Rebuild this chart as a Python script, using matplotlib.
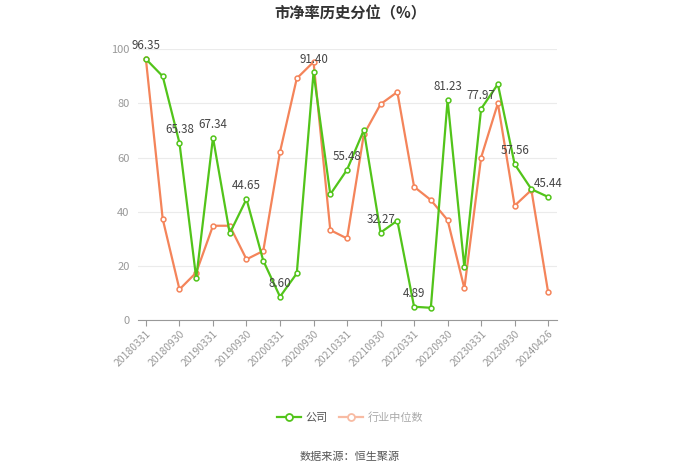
import matplotlib.pyplot as plt
from matplotlib.lines import Line2D

plt.rcParams['font.family'] = ['Noto Sans CJK SC', 'DejaVu Sans']

dates = [
    "20180331", "20180630", "20180930", "20181231",
    "20190331", "20190630", "20190930", "20191231",
    "20200331", "20200630", "20200930", "20201231",
    "20210331", "20210630", "20210930", "20211231",
    "20220331", "20220630", "20220930", "20221231",
    "20230331", "20230630", "20230930", "20231231",
    "20240426",
]
company = [
    96.35, 90.0, 65.38, 15.4, 67.34, 32.0, 44.65, 21.9,
    8.60, 17.2, 91.40, 46.4, 55.48, 70.1, 32.27, 36.7,
    4.89, 4.5, 81.23, 19.4, 77.97, 87.1, 57.56, 48.3,
    45.44,
]
industry = [
    96.2, 37.3, 11.3, 17.5, 34.8, 34.8, 22.4, 25.5,
    62.1, 89.2, 95.3, 33.2, 30.1, 68.5, 79.7, 84.2,
    49.2, 44.3, 36.9, 11.7, 60.0, 80.0, 42.2, 48.0,
    10.2,
]

green = "#52c41a"
orange = "#f4845a"

fig = plt.figure(figsize=(7, 4.73), dpi=100)
ax = fig.add_axes([0.197, 0.3235, 0.599, 0.5725])

x = list(range(len(dates)))
ax.plot(x, company, color=green, linewidth=1.6, marker="o", markersize=3.5,
        markerfacecolor="white", markeredgewidth=1.1, zorder=3)
ax.plot(x, industry, color=orange, linewidth=1.6, marker="o", markersize=3.5,
        markerfacecolor="white", markeredgewidth=1.1, zorder=2)

for i in range(0, len(dates), 2):
    ax.annotate(f"{company[i]:.2f}", (x[i], company[i]), xytext=(0, 5),
                textcoords="offset points", ha="center", va="bottom",
                fontsize=8.3, color="#444444", zorder=4)

ax.set_xlim(-0.48, 24.54)
ax.set_ylim(0, 100)
ax.set_yticks([0, 20, 40, 60, 80, 100])
ax.set_xticks(x[::2])
ax.set_xticklabels(dates[::2], rotation=45, ha="right", rotation_mode="anchor",
                   fontsize=7.5, color="#999999")
ax.tick_params(axis="y", length=0, labelsize=8, labelcolor="#999999", pad=6)
ax.tick_params(axis="x", length=4, color="#999999", pad=2)
ax.grid(axis="y", color="#ebebeb", linewidth=0.8)
ax.set_axisbelow(True)
for side in ("top", "right", "left"):
    ax.spines[side].set_visible(False)
ax.spines["bottom"].set_color("#999999")

fig.text(0.5, 0.972, "市净率历史分位（%）", ha="center", va="center",
         fontsize=11, fontweight="bold", color="#333333")

handles = [
    Line2D([], [], color=green, marker="o", markersize=5, markerfacecolor="white",
           markeredgewidth=1.3, linewidth=1.6),
    Line2D([], [], color="#f8bba3", marker="o", markersize=5, markerfacecolor="white",
           markeredgewidth=1.3, linewidth=1.6),
]
leg = fig.legend(handles, ["公司", "行业中位数"], loc="center", bbox_to_anchor=(0.5, 0.118),
                 ncol=2, frameon=False, fontsize=8, handlelength=2.2,
                 columnspacing=1.0, handletextpad=0.4)
leg.get_texts()[0].set_color("#555555")
leg.get_texts()[1].set_color("#aaaaaa")

fig.text(0.5, 0.034, "数据来源：恒生聚源", ha="center", va="center",
         fontsize=8, color="#555555")

fig.savefig("out.png", dpi=100)
